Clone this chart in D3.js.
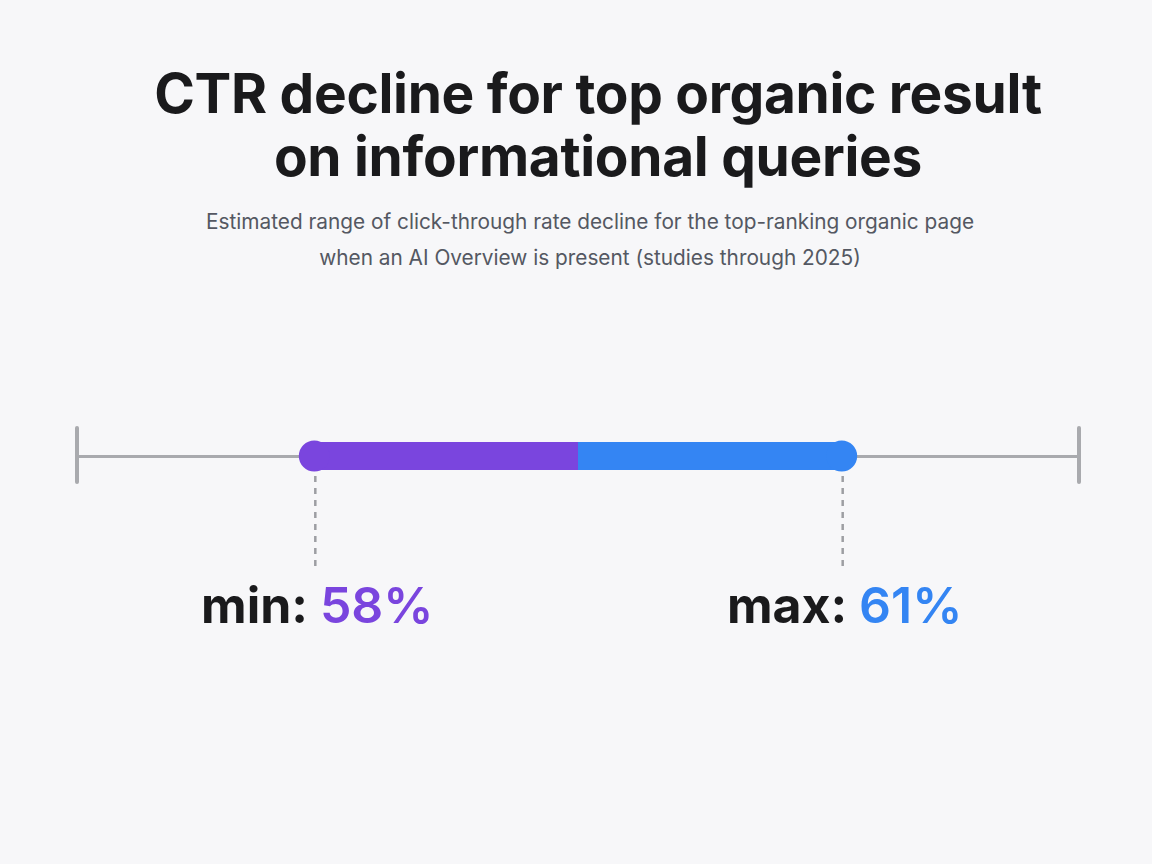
<!DOCTYPE html>
<html>
<head>
<meta charset="utf-8">
<script src="https://cdn.jsdelivr.net/npm/d3@7"></script>
<style>
  html, body { margin: 0; padding: 0; background: #f7f7f9; }
  svg { display: block; }
</style>
</head>
<body>
<svg id="chart"></svg>
<script>
// data
var titleLines = ["CTR decline for top organic result", "on informational queries"];
var subtitleLines = ["Estimated range of click-through rate decline for the top-ranking organic page",
                     "when an AI Overview is present (studies through 2025)"];
var rangeNames = ["min", "max"];
var rangeValues = [58, 61];
var rangeColors = ["#7a45de", "#3485f3"];
var axisExtent = [56.65, 62.35];

var svgWidth = 1152;
var svgHeight = 864;
var axisY = 456;

var svg = d3.select("#chart")
            .attr("width", svgWidth)
            .attr("height", svgHeight);

svg.append("rect")
   .attr("width", svgWidth).attr("height", svgHeight)
   .attr("fill", "#f7f7f9");

// title
svg.append("g").selectAll("text")
   .data(titleLines)
   .enter().append("text")
   .attr("x", 598)
   .attr("y", function(d, i) { return 113 + i * 63; })
   .attr("text-anchor", "middle")
   .attr("font-family", "Inter, 'Noto Sans', sans-serif")
   .attr("font-weight", 700)
   .attr("font-size", "55px")
   .attr("letter-spacing", "-0.3px")
   .attr("fill", "#1a1a1c")
   .text(function(d) { return d; });

svg.append("g").selectAll("text")
   .data(subtitleLines)
   .enter().append("text")
   .attr("x", 590)
   .attr("y", function(d, i) { return 229 + i * 36; })
   .attr("text-anchor", "middle")
   .attr("font-family", "Inter, 'Noto Sans', sans-serif")
   .attr("font-size", "20.8px")
   .attr("fill", "#545862")
   .text(function(d) { return d; });

var xScale = d3.scaleLinear()
               .domain(axisExtent)
               .range([77, 1079]);

// base axis line
var axis = d3.axisBottom(xScale).tickValues(axisExtent).tickSize(0).tickFormat("");
var axisG = svg.append("g")
   .attr("transform", "translate(0," + axisY + ")")
   .call(axis);
axisG.select(".domain")
   .attr("stroke", "#a9aaae")
   .attr("stroke-width", 3);

// end caps
svg.append("g").selectAll("line")
   .data(axisExtent)
   .enter().append("line")
   .attr("x1", function(d) { return xScale(d); })
   .attr("x2", function(d) { return xScale(d); })
   .attr("y1", axisY - 28)
   .attr("y2", axisY + 26)
   .attr("stroke", "#a9aaae")
   .attr("stroke-width", 4)
   .attr("stroke-linecap", "round");

// range bar, two halves
var mid = (rangeValues[0] + rangeValues[1]) / 2;
var segs = [[rangeValues[0], mid], [mid, rangeValues[1]]];
svg.append("g").selectAll("rect")
   .data(segs)
   .enter().append("rect")
   .attr("x", function(d) { return xScale(d[0]); })
   .attr("y", axisY - 14)
   .attr("width", function(d) { return xScale(d[1]) - xScale(d[0]); })
   .attr("height", 28)
   .attr("fill", function(d, i) { return rangeColors[i]; });

// dashed drop lines
svg.append("g").selectAll("line")
   .data(rangeValues)
   .enter().append("line")
   .attr("x1", function(d) { return xScale(d) + 1; })
   .attr("x2", function(d) { return xScale(d) + 1; })
   .attr("y1", axisY + 20)
   .attr("y2", 568)
   .attr("stroke", "#9d9ea3")
   .attr("stroke-width", 2.5)
   .attr("stroke-dasharray", "6,6");

// end dots
svg.append("g").selectAll("circle")
   .data(rangeValues)
   .enter().append("circle")
   .attr("cx", function(d) { return xScale(d); })
   .attr("cy", axisY)
   .attr("r", 15.5)
   .attr("fill", function(d, i) { return rangeColors[i]; });

// labels
var labels = svg.append("g").selectAll("text")
   .data(rangeValues)
   .enter().append("text")
   .attr("x", function(d) { return xScale(d) + 3; })
   .attr("y", 623)
   .attr("text-anchor", "middle")
   .attr("font-family", "Inter, 'Noto Sans', sans-serif")
   .attr("font-weight", 700)
   .attr("font-size", "50px");

labels.append("tspan")
   .attr("fill", "#1a1a1c")
   .text(function(d, i) { return rangeNames[i] + ": "; });
labels.append("tspan")
   .attr("fill", function(d, i) { return rangeColors[i]; })
   .attr("font-weight", 600)
   .text(function(d) { return d + "%"; });
</script>
</body>
</html>
